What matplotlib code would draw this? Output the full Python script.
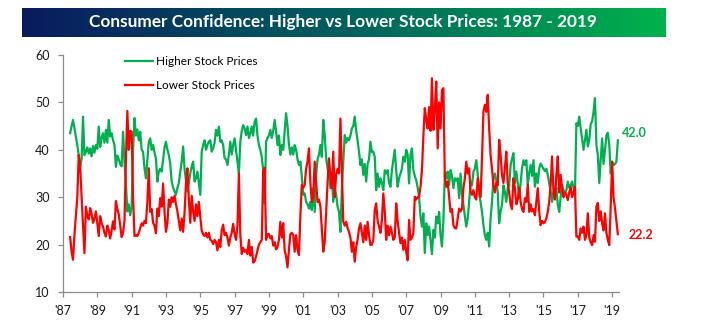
import numpy as np
import matplotlib
matplotlib.use("Agg")
import matplotlib.pyplot as plt
from matplotlib.colors import LinearSegmentedColormap

plt.rcParams['font.family'] = ['Lato', 'DejaVu Sans']

# monthly readings, Jun 1987 .. May 2019 (one row per calendar year)
higher = [
    43.5, 45.0, 46.3, 44.5, 42.8, 41.0, 38.9,                          # 1987
    36.4, 38.0, 47.0, 38.9, 39.5, 40.5, 39.2, 40.3, 38.6, 40.8, 39.4, 41.0,  # 1988
    40.2, 44.9, 40.6, 42.5, 43.5, 41.5, 44.2, 41.5, 46.3, 42.8, 43.5, 42.0,  # 1989
    41.0, 36.4, 38.8, 38.0, 37.0, 36.5, 43.8, 37.5, 33.0, 27.0, 28.5, 26.2,  # 1990
    28.0, 40.0, 46.7, 43.0, 44.3, 42.0, 43.8, 40.0, 39.6, 36.1, 34.0, 38.0,  # 1991
    41.7, 42.4, 40.0, 41.0, 39.5, 38.2, 33.3, 35.4, 36.0, 35.4, 38.0, 40.5,  # 1992
    41.7, 40.0, 38.9, 37.0, 33.3, 32.0, 31.2, 30.5, 32.0, 33.0, 35.4, 37.5,  # 1993
    40.7, 36.0, 33.5, 31.2, 33.0, 35.0, 36.5, 37.5, 33.3, 34.0, 35.4, 33.0,  # 1994
    30.5, 39.6, 41.0, 42.0, 40.0, 41.0, 41.7, 42.0, 39.6, 40.3, 41.5, 44.2,  # 1995
    43.0, 44.9, 41.7, 42.0, 41.0, 38.2, 38.0, 36.8, 39.0, 41.7, 39.0, 41.0,  # 1996
    42.4, 40.0, 37.5, 35.0, 41.7, 44.0, 45.2, 44.5, 43.1, 44.9, 42.5, 43.5,  # 1997
    44.9, 43.0, 45.9, 46.6, 43.0, 41.0, 40.0, 38.5, 35.7, 28.7, 41.7, 42.5,  # 1998
    43.0, 44.2, 42.5, 44.0, 46.3, 44.0, 41.0, 43.0, 38.9, 41.0, 40.0, 44.0,  # 1999
    47.7, 45.0, 41.0, 39.0, 40.5, 39.0, 41.0, 40.0, 38.0, 36.8, 37.5, 34.3,  # 2000
    30.5, 30.8, 29.0, 28.5, 27.6, 29.0, 27.3, 31.9, 26.9, 34.7, 38.0, 39.0,  # 2001
    41.0, 38.5, 46.3, 43.1, 38.2, 36.1, 35.0, 31.9, 34.0, 29.0, 31.9, 30.5,  # 2002
    28.0, 26.9, 22.7, 31.9, 37.5, 43.1, 41.5, 42.5, 42.0, 43.0, 44.5, 45.0,  # 2003
    47.0, 44.0, 42.0, 39.6, 36.8, 38.0, 34.7, 37.0, 33.3, 37.0, 38.0, 41.7,  # 2004
    39.5, 39.6, 38.5, 31.5, 35.0, 32.2, 34.0, 33.0, 31.5, 35.7, 35.0, 35.7,  # 2005
    33.0, 32.2, 35.7, 37.8, 40.0, 35.7, 32.2, 34.0, 35.0, 36.0, 38.5, 37.5,  # 2006
    40.0, 39.0, 32.9, 39.0, 40.3, 35.7, 34.5, 33.6, 32.0, 30.1, 25.9, 23.8,  # 2007
    26.6, 18.2, 24.5, 22.0, 23.8, 21.0, 18.0, 23.1, 21.5, 25.9, 24.5, 26.9,  # 2008
    22.0, 19.6, 25.0, 35.0, 34.0, 35.4, 32.6, 35.7, 34.5, 31.9, 34.0, 33.5,  # 2009
    34.0, 29.8, 35.0, 30.5, 28.4, 26.0, 23.8, 25.5, 29.0, 33.3, 32.5, 35.4,  # 2010
    36.0, 37.8, 35.0, 30.5, 29.0, 26.9, 24.1, 22.0, 21.0, 22.5, 19.6, 25.5,  # 2011
    29.0, 34.0, 35.0, 33.5, 31.0, 24.5, 27.0, 28.4, 32.5, 31.0, 29.0, 32.0,  # 2012
    32.5, 36.8, 38.2, 39.3, 33.0, 35.4, 33.0, 29.8, 33.0, 36.1, 37.8, 36.8,  # 2013
    37.8, 32.6, 35.0, 36.8, 34.5, 37.8, 32.2, 35.0, 33.0, 36.1, 37.1, 36.5,  # 2014
    36.0, 35.5, 36.0, 34.7, 33.0, 31.2, 29.0, 31.0, 30.5, 32.0, 28.4, 26.9,  # 2015
    30.0, 32.6, 31.5, 30.8, 31.5, 33.3, 32.0, 32.5, 33.3, 32.0, 31.0, 45.6,  # 2016
    45.0, 47.0, 44.5, 42.4, 40.0, 42.0, 44.2, 40.7, 42.0, 45.4, 46.0, 48.0,  # 2017
    50.9, 41.0, 38.9, 33.0, 38.0, 42.4, 37.0, 40.0, 43.0, 43.6, 41.0, 35.0,  # 2018
    37.5, 36.8, 37.0, 37.5, 42.0,                                      # 2019
]

lower = [
    21.6, 18.5, 16.8, 22.0, 25.9, 30.0, 38.9,                          # 1987
    36.4, 30.1, 24.0, 18.2, 28.0, 26.0, 25.3, 27.7, 26.5, 24.6, 25.5, 27.0,  # 1988
    24.5, 21.8, 26.0, 24.5, 23.8, 22.5, 21.7, 24.0, 23.0, 21.3, 23.0, 24.9,  # 1989
    23.2, 29.2, 27.5, 26.4, 24.0, 21.6, 22.5, 25.0, 38.0, 48.2, 40.0, 44.0,  # 1990
    43.8, 30.0, 21.8, 22.0, 21.8, 22.5, 23.5, 24.5, 24.0, 25.0, 24.5, 29.0,  # 1991
    36.1, 26.9, 27.5, 24.6, 24.0, 22.4, 27.6, 26.0, 29.8, 28.0, 32.9, 26.9,  # 1992
    22.7, 24.5, 29.5, 28.0, 30.0, 29.0, 30.3, 28.5, 27.0, 25.0, 23.0, 25.5,  # 1993
    22.7, 26.7, 33.0, 36.1, 29.5, 24.6, 30.3, 27.0, 25.0, 28.5, 26.0, 29.0,  # 1994
    26.0, 22.9, 22.2, 21.8, 22.5, 21.5, 22.5, 21.0, 20.8, 20.1, 21.0, 20.5,  # 1995
    18.8, 21.0, 19.5, 23.0, 24.2, 22.0, 22.5, 21.5, 19.8, 21.5, 22.5, 24.4,  # 1996
    22.2, 21.0, 24.0, 35.0, 22.0, 18.0, 19.3, 18.5, 18.8, 18.0, 21.0, 17.7,  # 1997
    19.5, 16.2, 16.5, 17.5, 18.8, 20.0, 20.5, 21.0, 35.5, 36.2, 21.0, 22.2,  # 1998
    22.2, 21.3, 21.8, 19.8, 20.5, 19.0, 19.5, 21.0, 24.8, 21.5, 24.5, 18.8,  # 1999
    17.5, 15.2, 19.0, 22.2, 22.5, 22.0, 18.5, 22.0, 19.0, 17.8, 26.2, 32.6,  # 2000
    32.0, 32.6, 36.0, 37.5, 40.3, 33.0, 29.0, 30.0, 37.5, 33.0, 29.0, 29.5,  # 2001
    28.0, 23.4, 18.5, 20.5, 26.9, 33.0, 38.2, 34.7, 31.9, 39.6, 30.0, 34.7,  # 2002
    36.0, 35.0, 46.6, 35.4, 24.8, 24.0, 24.8, 23.5, 22.7, 21.5, 18.5, 20.5,  # 2003
    16.4, 19.5, 21.0, 23.4, 24.5, 22.5, 20.5, 24.0, 21.0, 24.8, 22.0, 19.9,  # 2004
    20.0, 21.0, 27.3, 28.7, 25.0, 23.8, 22.5, 25.2, 30.8, 27.0, 21.0, 24.0,  # 2005
    22.0, 23.8, 22.5, 21.0, 21.5, 28.7, 25.0, 22.5, 20.3, 21.5, 18.9, 21.0,  # 2006
    18.5, 16.7, 25.2, 21.0, 21.5, 22.4, 30.1, 29.5, 30.0, 30.1, 32.2, 35.7,  # 2007
    42.8, 48.8, 46.3, 44.5, 49.0, 44.0, 55.1, 44.2, 48.4, 54.4, 40.3, 50.0,  # 2008
    44.5, 52.6, 53.0, 34.3, 32.2, 33.3, 30.0, 26.9, 27.5, 24.1, 23.5, 23.4,  # 2009
    25.5, 27.6, 27.0, 27.5, 31.9, 34.0, 37.5, 35.0, 36.1, 31.2, 30.5, 31.5,  # 2010
    30.0, 29.5, 34.0, 32.0, 30.0, 38.2, 48.0, 49.5, 48.0, 51.6, 44.5, 38.9,  # 2011
    36.0, 32.6, 31.0, 33.0, 32.5, 42.1, 39.0, 34.7, 33.0, 36.1, 39.6, 33.0,  # 2012
    31.0, 28.4, 27.5, 34.0, 32.0, 28.5, 29.5, 32.0, 29.0, 27.5, 26.9, 29.8,  # 2013
    29.0, 32.6, 26.9, 28.5, 27.0, 27.5, 26.2, 29.0, 31.9, 27.0, 24.1, 25.0,  # 2014
    24.5, 24.8, 25.5, 26.9, 29.0, 32.6, 38.6, 31.0, 29.5, 34.7, 38.6, 31.0,  # 2015
    34.7, 31.9, 30.0, 31.0, 30.5, 29.4, 31.0, 32.2, 30.0, 31.0, 32.2, 21.7,  # 2016
    21.7, 21.0, 23.4, 22.5, 23.8, 21.0, 22.0, 26.6, 21.5, 20.5, 19.9, 22.0,  # 2017
    20.6, 28.0, 28.8, 25.0, 27.0, 24.5, 23.0, 26.6, 22.5, 21.0, 19.9, 28.0,  # 2018
    37.5, 30.0, 27.7, 25.0, 22.2,                                      # 2019
]

tick_years = list(range(1987, 2020, 2))
tick_labels = ["'%02d" % (y % 100) for y in tick_years]

GREEN = '#00B050'
RED = '#FF0000'

n = len(higher)
x = 1987 + 5 / 12 + np.arange(n) / 12.0

fig = plt.figure(figsize=(7.03, 3.31), dpi=100)

# title banner with gradient
tax = fig.add_axes([22 / 703, 1 - 37 / 331, 644 / 703, 29 / 331])
cmap = LinearSegmentedColormap.from_list('ban', ['#0A1A5E', '#02605E', '#00B24C'])
tax.imshow(np.linspace(0, 1, 256).reshape(1, -1), aspect='auto', cmap=cmap,
           extent=[0, 1, 0, 1])
tax.set_axis_off()
fig.text(342.5 / 703, 1 - 22.5 / 331,
         'Consumer Confidence: Higher vs Lower Stock Prices: 1987 - 2019',
         color='white', fontsize=12.4, fontweight='bold', ha='center', va='center')

ax = fig.add_axes([63 / 703, 1 - 292 / 331, 556 / 703, 237 / 331])
ax.plot(x, higher, color=GREEN, lw=1.6, label='Higher Stock Prices')
ax.plot(x, lower, color=RED, lw=1.6, label='Lower Stock Prices')

ax.set_xlim(1987, 2019.4)
ax.set_ylim(10, 60)
ax.set_yticks(range(10, 61, 10))
ax.set_xticks(tick_years)
ax.set_xticklabels(tick_labels)
for s in ['top', 'right']:
    ax.spines[s].set_visible(False)
for s in ['left', 'bottom']:
    ax.spines[s].set_color('#8C8C8C')
    ax.spines[s].set_linewidth(0.9)
ax.tick_params(axis='both', colors='#8C8C8C', labelcolor='#1A1A1A',
               labelsize=9, length=3.5, width=0.9, direction='out')
ax.tick_params(axis='y', pad=6)
ax.tick_params(axis='x', pad=6)

ax.legend(loc='upper left', bbox_to_anchor=(125 / 703, 1 - 56 / 331),
          bbox_transform=fig.transFigure, frameon=False, fontsize=8.5,
          handlelength=2.4, handletextpad=0.25, labelspacing=1.1,
          borderpad=0, borderaxespad=0)

ax.annotate('%.1f' % higher[-1], xy=(x[-1], higher[-1]), xytext=(3, 5.5),
            textcoords='offset points', color=GREEN, fontsize=9,
            fontweight='bold', ha='left', va='center')
ax.annotate('%.1f' % lower[-1], xy=(x[-1], lower[-1]), xytext=(8, -0.5),
            textcoords='offset points', color=RED, fontsize=9,
            fontweight='bold', ha='left', va='center')

fig.savefig('out.png', dpi=100)
